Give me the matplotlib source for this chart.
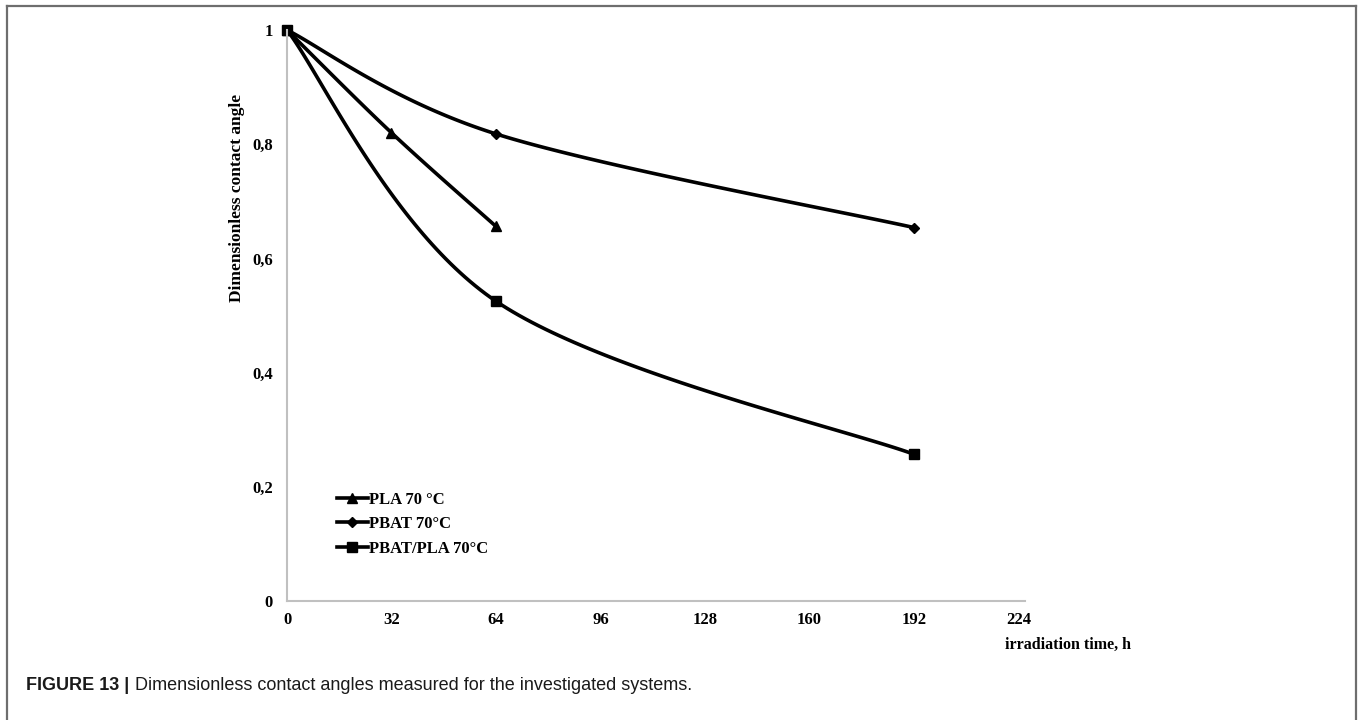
import numpy as np
import matplotlib
matplotlib.use('Agg')
import matplotlib.pyplot as plt
from matplotlib.lines import Line2D

# data
hours_pla = [0, 32, 64]
angle_pla = [1.0, 0.82, 0.656]

hours_pbat = [0, 64, 192]
angle_pbat = [1.0, 0.818, 0.654]

hours_blend = [0, 64, 192]
angle_blend = [1.0, 0.525, 0.257]

series_labels = ['PLA 70 °C', 'PBAT 70°C', 'PBAT/PLA 70°C']
x_ticks = [0, 32, 64, 96, 128, 160, 192, 224]
y_ticks = [0, 0.2, 0.4, 0.6, 0.8, 1.0]
y_tick_labels = ['0', '0,2', '0,4', '0,6', '0,8', '1']

SERIF = 'Liberation Serif'


def smooth_curve(xs, ys, sx, sy, n=60):
    # Excel-like smoothed line: cubic bezier with catmull-rom control points,
    # computed in (roughly) screen space so the curvature looks the same
    p = np.column_stack([np.asarray(xs, float) * sx, np.asarray(ys, float) * sy])
    pts = np.vstack([p[0], p, p[-1]])
    out = []
    t = np.linspace(0, 1, n)[:, None]
    for i in range(1, len(pts) - 2):
        p0, p3 = pts[i], pts[i + 1]
        c1 = p0 + (pts[i + 1] - pts[i - 1]) / 6.0
        c2 = p3 - (pts[i + 2] - pts[i]) / 6.0
        seg = ((1 - t) ** 3) * p0 + 3 * ((1 - t) ** 2) * t * c1 \
            + 3 * (1 - t) * t ** 2 * c2 + t ** 3 * p3
        out.append(seg if i == 1 else seg[1:])
    out = np.vstack(out)
    return out[:, 0] / sx, out[:, 1] / sy


fig = plt.figure(figsize=(13.6, 7.2), dpi=100)
ax = fig.add_axes([287 / 1360, 1 - 601 / 720, 738 / 1360, 571 / 720])

# pixel scale of data units (used for the smoothing)
sx = 104.5 / 32
sy = 571.0

styles = [('^', 7), ('D', 5), ('s', 7)]
data = [(hours_pla, angle_pla), (hours_pbat, angle_pbat), (hours_blend, angle_blend)]
handles = []
for (xs, ys), (mk, ms), lab in zip(data, styles, series_labels):
    cx, cy = smooth_curve(xs, ys, sx, sy)
    ax.plot(cx, cy, color='black', lw=2.6, solid_capstyle='round', clip_on=False)
    ax.plot(xs, ys, linestyle='none', marker=mk, ms=ms, color='black', clip_on=False)
    handles.append(Line2D([], [], color='black', lw=2.6, marker=mk, ms=ms, label=lab))

ax.set_xlim(0, 226)
ax.set_ylim(0, 1)
ax.set_xticks(x_ticks)
ax.set_xticklabels([str(v) for v in x_ticks])
ax.set_yticks(y_ticks)
ax.set_yticklabels(y_tick_labels)
ax.tick_params(length=0)
ax.tick_params(axis='y', pad=10)
ax.tick_params(axis='x', pad=8)
for lbl in ax.get_xticklabels() + ax.get_yticklabels():
    lbl.set_fontfamily(SERIF)
    lbl.set_fontweight('bold')
    lbl.set_fontsize(12)

for side in ['top', 'right']:
    ax.spines[side].set_visible(False)
for side in ['left', 'bottom']:
    ax.spines[side].set_color('#c0c0c0')
    ax.spines[side].set_linewidth(1.5)

leg = fig.legend(handles=handles, loc='upper left',
                 bbox_to_anchor=(337 / 1360, 1 - 492 / 720),
                 frameon=False, borderpad=0, borderaxespad=0,
                 handlelength=1.85, handletextpad=0.05, labelspacing=0.5,
                 prop={'family': SERIF, 'weight': 'bold', 'size': 12})

fig.text(237 / 1360, 1 - 198 / 720, 'Dimensionless contact angle', rotation=90,
         ha='center', va='center', family=SERIF, weight='bold', fontsize=12.5)
fig.text(1005 / 1360, 1 - 645 / 720, 'irradiation time, h', ha='left', va='center',
         family=SERIF, weight='bold', fontsize=11.5)

# outer frame of the figure panel
frame_col = '#6e6e6e'
fig.add_artist(Line2D([7 / 1360, 7 / 1360], [0, 1 - 6 / 720], color=frame_col, lw=1.6,
                      transform=fig.transFigure))
fig.add_artist(Line2D([7 / 1360, 1356 / 1360], [1 - 6 / 720, 1 - 6 / 720], color=frame_col,
                      lw=1.6, transform=fig.transFigure))
fig.add_artist(Line2D([1356 / 1360, 1356 / 1360], [0, 1 - 6 / 720], color=frame_col, lw=1.6,
                      transform=fig.transFigure))

# caption
cap_y = 1 - 686 / 720
t1 = fig.text(26 / 1360, cap_y, 'FIGURE 13 |', ha='left', va='center',
              family='Liberation Sans', weight='bold', fontsize=13, color='#1a1a1a')
fig.canvas.draw()
bb = t1.get_window_extent(fig.canvas.get_renderer())
fig.text((bb.x1 + 6) / 1360, cap_y, 'Dimensionless contact angles measured for the investigated systems.',
         ha='left', va='center', family='Liberation Sans', fontsize=13, color='#1a1a1a')

fig.savefig('out.png', dpi=100)
